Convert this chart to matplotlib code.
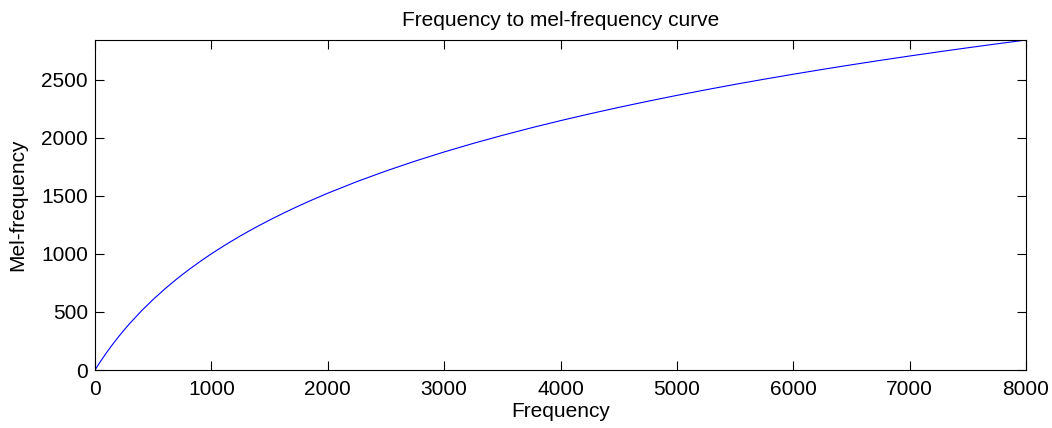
import numpy as np
import matplotlib
matplotlib.use("Agg")
import matplotlib.pyplot as plt

# values (Hz -> mel)
freq = [0, 25, 50, 100, 150, 200, 250, 300, 400, 500, 600, 700, 750, 800,
        900, 1000, 1125, 1250, 1375, 1500, 1625, 1750, 1875, 2000, 2250,
        2500, 2750, 3000, 3250, 3500, 3750, 4000, 4250, 4500, 4750, 5000,
        5250, 5500, 5750, 6000, 6250, 6500, 6750, 7000, 7250, 7500, 7750,
        8000]
mel = [0, 39.5, 77.8, 150.5, 218.8, 283.2, 344.2, 402.0, 509.4, 607.4,
       697.7, 781.2, 820.7, 858.9, 931.7, 1000.0, 1079.9, 1154.6, 1224.6,
       1290.5, 1352.8, 1411.9, 1467.9, 1521.4, 1621.2, 1712.8, 1797.6,
       1876.5, 1950.2, 2019.3, 2084.5, 2146.1, 2204.5, 2260.0, 2313.0,
       2363.5, 2411.8, 2458.2, 2502.8, 2545.6, 2586.9, 2626.7, 2665.2,
       2702.4, 2738.4, 2773.3, 2807.1, 2840.0]

xticks = [0, 1000, 2000, 3000, 4000, 5000, 6000, 7000, 8000]
yticks = [0, 500, 1000, 1500, 2000, 2500]

plt.rcParams['font.family'] = ['Liberation Sans', 'DejaVu Sans']

fig = plt.figure(figsize=(10.52, 4.28), dpi=100)
ax = fig.add_axes([0.0903, 0.1355, 0.8850, 0.7710])
ax.plot(freq, mel, color=(0, 0, 1), linewidth=0.8)
ax.set_xlim(0, 8000)
ax.set_ylim(0, 2840)
ax.set_xticks(xticks)
ax.set_yticks(yticks)
ax.tick_params(direction='in', length=6.5, width=0.8, top=True, right=True,
               labelsize=15)
ax.tick_params(axis='x', pad=7)
ax.tick_params(axis='y', pad=5)
for s in ax.spines.values():
    s.set_linewidth(0.8)
ax.set_xlabel('Frequency', fontsize=15, labelpad=2)
ax.set_ylabel('Mel-frequency', fontsize=15, labelpad=10)
ax.set_title('Frequency to mel-frequency curve', fontsize=15, pad=10)

fig.savefig('out.png', dpi=100)
